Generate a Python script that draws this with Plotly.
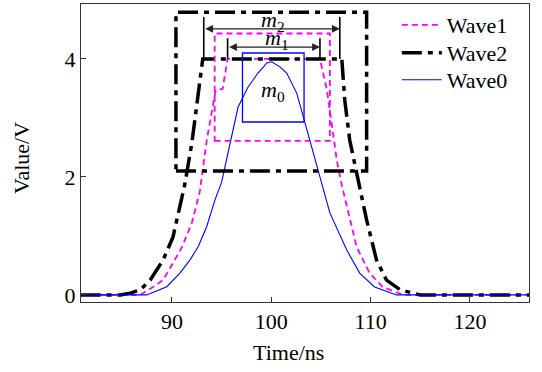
import plotly.graph_objects as go

# ---------------- data ----------------
time_w1 = [80.8, 86.8, 88.1, 89.1, 90.1, 91.0, 92.0, 92.8, 93.5, 94.2, 94.4, 95.1, 95.6,
           104.9, 105.6, 106.1, 106.6, 107.1, 107.8, 108.6, 109.9, 111.2, 113.3, 126.0]
val_w1 = [0, 0, 0.135, 0.25, 0.54, 0.81, 1.22, 1.75, 2.62, 3.30, 3.47, 3.49, 4.0,
          4.0, 3.47, 2.88, 2.28, 1.86, 1.39, 0.81, 0.37, 0.135, 0, 0]

time_w2 = [80.8, 84.8, 85.8, 86.8, 87.8, 89.1, 90.1, 91.0, 91.3, 92.0, 92.8, 93.1,
           107.1, 107.4, 107.9, 108.5, 108.9, 109.6, 110.6, 111.6, 113.0, 115.0, 126.0]
val_w2 = [0, 0, 0.03, 0.085, 0.25, 0.59, 0.98, 1.61, 1.88, 2.57, 3.59, 4.0,
          4.0, 3.30, 2.62, 2.12, 1.83, 1.27, 0.59, 0.25, 0.085, 0, 0]

time_w0 = [80.8, 87.45, 89.47, 90.8, 91.8, 92.65, 93.5, 94.33, 95.0, 95.84, 96.65, 97.65,
           98.66, 99.2, 99.54, 100.04, 100.9, 101.55, 102.56, 103.22, 104.07, 104.9, 105.9,
           107.6, 108.9, 110.4, 112.6, 126.0]
val_w0 = [0, 0, 0.14, 0.37, 0.59, 0.82, 1.16, 1.61, 1.91, 2.57, 3.18, 3.52,
          3.76, 3.86, 3.93, 3.95, 3.86, 3.76, 3.42, 3.02, 2.50, 1.98, 1.39,
          0.76, 0.37, 0.135, 0, 0]

# boxes: [x0, x1], [y0, y1]
box_w2_x = [90.4, 109.6]
box_w2_y = [2.10, 4.79]
box_w1_x = [94.3, 105.9]
box_w1_y = [2.61, 4.43]
box_w0_x = [97.1, 103.3]
box_w0_y = [2.93, 4.10]

# width markers: [x_left, x_right], arrow y, bar top
m2_x = [93.2, 106.9]
m2_arrow_y = 4.51
m2_bar_top = 4.71
m1_x = [95.6, 104.9]
m1_arrow_y = 4.20
m1_bar_top = 4.35
plateau_level = 4.0

x_ticks = [90, 100, 110, 120]
y_ticks = [0, 2, 4]

# ---------------- styles ----------------
FONT = "Liberation Serif, Times New Roman, serif"
FS = 22
MAG = "#ff00ff"
BLK = "#000000"
BLU = "#0000ff"
DASHDOT = "20px,6px,5px,6px"
DASH = "6px,4px"

fig = go.Figure()
fig.add_trace(go.Scatter(x=time_w1, y=val_w1, mode="lines", name="Wave1", legend="legend",
                         line=dict(color=MAG, width=1.8, dash=DASH)))
fig.add_trace(go.Scatter(x=time_w2, y=val_w2, mode="lines", name="Wave2", legend="legend2",
                         line=dict(color=BLK, width=3.5, dash=DASHDOT)))
fig.add_trace(go.Scatter(x=time_w0, y=val_w0, mode="lines", name="Wave0", legend="legend3",
                         line=dict(color=BLU, width=1.1)))

shapes = []
def rect(xs, ys, color, width, dash):
    shapes.append(dict(type="rect", xref="x", yref="y", x0=xs[0], x1=xs[1], y0=ys[0], y1=ys[1],
                       line=dict(color=color, width=width, dash=dash), layer="above"))

rect(box_w2_x, box_w2_y, BLK, 3.5, DASHDOT)
rect(box_w1_x, box_w1_y, MAG, 1.8, DASH)
rect(box_w0_x, box_w0_y, BLU, 1.3, "solid")

for xs, top in [(m2_x, m2_bar_top), (m1_x, m1_bar_top)]:
    for xv in xs:
        shapes.append(dict(type="line", xref="x", yref="y", x0=xv, x1=xv, y0=plateau_level, y1=top,
                           line=dict(color=BLK, width=1.6), layer="above"))

annotations = []
for xs, yv in [(m2_x, m2_arrow_y), (m1_x, m1_arrow_y)]:
    annotations.append(dict(x=xs[1], y=yv, ax=xs[0], ay=yv, xref="x", yref="y", axref="x", ayref="y",
                            text="", showarrow=True, arrowhead=2, arrowside="end+start",
                            arrowsize=1.3, arrowwidth=1.2, arrowcolor="#222222",
                            standoff=0, startstandoff=0))

mfont = dict(family=FONT, size=FS, color=BLK)
annotations.append(dict(x=100.2, y=4.64, xref="x", yref="y", text="<i>m</i><sub>2</sub>",
                        showarrow=False, font=mfont))
annotations.append(dict(x=100.6, y=4.33, xref="x", yref="y", text="<i>m</i><sub>1</sub>",
                        showarrow=False, font=mfont))
annotations.append(dict(x=100.2, y=3.45, xref="x", yref="y", text="<i>m</i><sub>0</sub>",
                        showarrow=False, font=mfont))

# axis titles
annotations.append(dict(x=0.464, y=-0.168, xref="paper", yref="paper", text="Time/ns",
                        xanchor="center", yanchor="middle",
                        showarrow=False, font=dict(family=FONT, size=FS, color=BLK)))
annotations.append(dict(x=-0.134, y=0.483, xref="paper", yref="paper", text="Value/V",
                        xanchor="center", yanchor="middle",
                        textangle=-90, showarrow=False, font=dict(family=FONT, size=FS, color=BLK)))

axis_common = dict(showgrid=False, zeroline=False, showline=True, linecolor="#333333", linewidth=1,
                   mirror=True, ticks="inside", ticklen=5, tickcolor="#333333",
                   tickfont=dict(family=FONT, size=FS, color=BLK))

def legend_at(py):
    # py: pixel row (from top of the figure) of the entry centre
    return dict(x=0.705, y=(302 - py) / 298, xanchor="left", yanchor="middle",
                bgcolor="rgba(0,0,0,0)", font=dict(family=FONT, size=FS, color=BLK),
                itemwidth=40)

fig.update_layout(
    width=542, height=372,
    margin=dict(l=81, r=13, t=4, b=70),
    paper_bgcolor="white", plot_bgcolor="white",
    xaxis=dict(range=[80.84, 125.95], tickvals=x_ticks, **axis_common),
    yaxis=dict(range=[-0.12, 4.93], tickvals=y_ticks, **axis_common),
    shapes=shapes, annotations=annotations,
    showlegend=True,
    legend=legend_at(25),
    legend2=legend_at(53),
    legend3=legend_at(80),
)

fig.write_html("out.html")
